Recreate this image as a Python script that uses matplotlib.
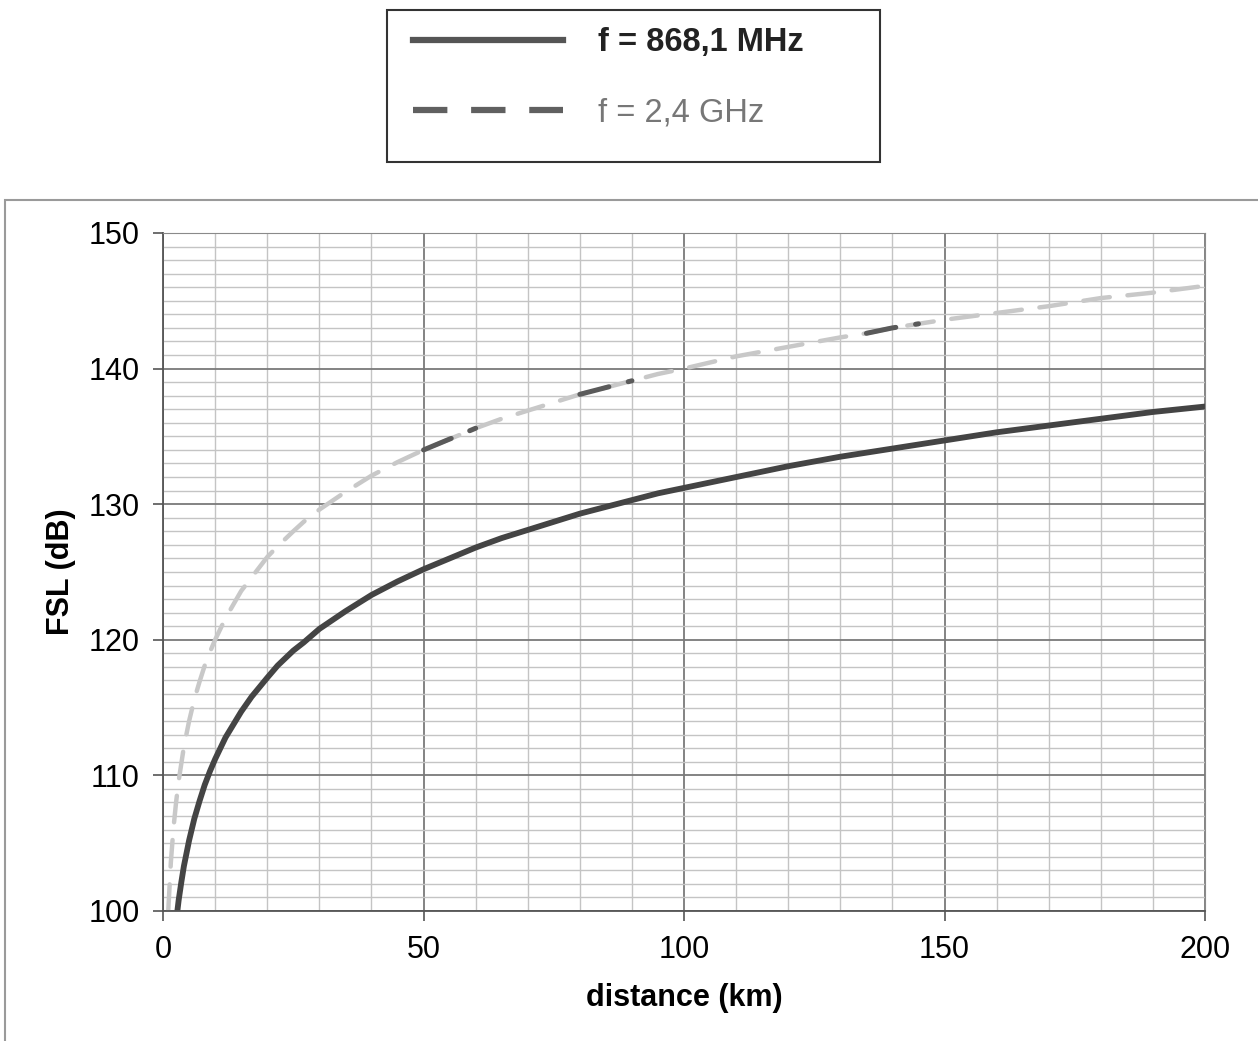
import matplotlib
matplotlib.use("Agg")
from matplotlib import pyplot as plt
from matplotlib.lines import Line2D
from matplotlib.patches import Rectangle
import numpy as np

plt.rcParams["font.family"] = ["Liberation Sans", "DejaVu Sans"]

# free space loss, f = 868,1 MHz
dist_868 = [2.75, 3, 3.5, 4, 5, 6, 7, 8, 9, 10, 12, 15, 17, 20, 22, 25, 27,
            30, 35, 40, 45, 50, 55, 60, 65, 70, 75, 80, 85, 90, 95, 100, 110,
            120, 130, 140, 150, 160, 170, 180, 190, 200]
fsl_868 = [100.0, 100.8, 102.1, 103.3, 105.2, 106.8, 108.1, 109.3, 110.3,
           111.2, 112.8, 114.7, 115.8, 117.2, 118.1, 119.2, 119.8, 120.8,
           122.1, 123.3, 124.3, 125.2, 126.0, 126.8, 127.5, 128.1, 128.7,
           129.3, 129.8, 130.3, 130.8, 131.2, 132.0, 132.8, 133.5, 134.1,
           134.7, 135.3, 135.8, 136.3, 136.8, 137.2]

# f = 2,4 GHz
dist_24 = [1, 1.5, 2, 2.5, 3, 4, 5, 6, 7, 8, 9, 10, 12, 15, 17, 20, 22, 25,
           27, 30, 35, 40, 45, 50, 55, 60, 65, 70, 75, 80, 85, 90, 95, 100,
           110, 120, 130, 135, 140, 145, 150, 160, 170, 180, 190, 200]
fsl_24 = [100.0, 103.6, 106.1, 108.0, 109.6, 112.1, 114.0, 115.6, 116.9,
          118.1, 119.1, 120.0, 121.6, 123.6, 124.6, 126.1, 126.9, 128.0,
          128.7, 129.6, 130.9, 132.1, 133.1, 134.0, 134.8, 135.6, 136.3,
          136.9, 137.5, 138.1, 138.6, 139.1, 139.6, 140.0, 140.9, 141.6,
          142.3, 142.6, 143.0, 143.3, 143.6, 144.1, 144.6, 145.2, 145.6,
          146.1]
# stretches of the dashed curve that print darker in the scan
dark_spans = [(50, 60), (80, 90), (135, 145)]

labels = ["f = 868,1 MHz", "f = 2,4 GHz"]

fig = plt.figure(figsize=(12.58, 10.41), dpi=100)
ax = fig.add_axes([0.1296, 0.1249, 0.8283, 0.6513])

ax.set_xlim(0, 200)
ax.set_ylim(100, 150)
ax.set_xticks(np.arange(0, 201, 50))
ax.set_yticks(np.arange(100, 151, 10))
ax.set_xticks(np.arange(0, 201, 10), minor=True)
ax.set_yticks(np.arange(100, 151, 1), minor=True)
ax.grid(which="minor", color="#c4c4c4", linewidth=1.0)
ax.grid(which="major", color="#7a7a7a", linewidth=1.3)
ax.set_axisbelow(True)
ax.tick_params(which="minor", length=0)
ax.tick_params(which="major", length=7, width=1.2, color="#555555",
               labelsize=22, pad=10)
for side in ["top", "right"]:
    ax.spines[side].set_color("#8a8a8a")
for side in ["left", "bottom"]:
    ax.spines[side].set_color("#555555")
    ax.spines[side].set_linewidth(1.3)

ax.plot(dist_24, fsl_24, color="#c8c8c8", linewidth=3.2, dashes=(6, 4),
        dash_capstyle="round")
d24 = np.array(dist_24)
f24 = np.array(fsl_24)
for a, b in dark_spans:
    m = (d24 >= a) & (d24 <= b)
    ax.plot(d24[m], f24[m], color="#5a5a5a", linewidth=3.6, dashes=(6, 4),
            dash_capstyle="round")
ax.plot(dist_868, fsl_868, color="#444444", linewidth=4.2,
        solid_capstyle="round", solid_joinstyle="round")

ax.set_xlabel("distance (km)", fontsize=22, fontweight="bold", labelpad=13)
ax.set_ylabel("FSL (dB)", fontsize=22, fontweight="bold", labelpad=9)

# outer chart frame
fig.patches.append(Rectangle((0.004, -0.01), 1.0, 0.818,
                             transform=fig.transFigure, fill=False,
                             edgecolor="#9a9a9a", linewidth=1.5))

# legend box sits above the chart
fig.patches.append(Rectangle((387 / 1258, 1 - 162 / 1041), 493 / 1258,
                             152 / 1041, transform=fig.transFigure,
                             fill=False, edgecolor="#333333", linewidth=1.5))

handles = [Line2D([], [], color="#555555", linewidth=4.5),
           Line2D([], [], color="#606060", linewidth=4.5, dashes=(5.5, 3.8))]
leg = fig.legend(handles, labels, loc="upper left",
                 bbox_to_anchor=(413 / 1258, 1 - 27 / 1041),
                 fontsize=23.5, handlelength=4.6, handletextpad=1.07,
                 labelspacing=1.22, borderpad=0, borderaxespad=0,
                 frameon=False)
texts = leg.get_texts()
texts[0].set_fontweight("bold")
texts[0].set_color("#222222")
texts[1].set_color("#777777")

plt.savefig("out.png", dpi=100)
